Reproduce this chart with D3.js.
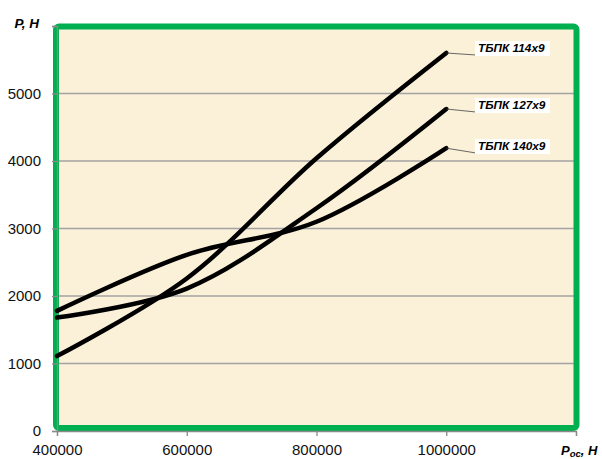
<!DOCTYPE html>
<html>
<head>
<meta charset="utf-8">
<script src="https://d3js.org/d3.v7.min.js"></script>
<style>
body { margin: 0; background: #fff; }
.lbl { font-family: 'Liberation Sans', Arial, sans-serif; font-weight: bold; font-style: italic; }
</style>
</head>
<body>
<svg id="svgMain" width="602" height="459"></svg>
<script>
// axial load P_oc (N) and resulting force P (N)
var loads = [400000, 600000, 800000, 1000000];
var tbpk114 = [1110, 2260, 4040, 5600];
var tbpk127 = [1680, 2110, 3300, 4770];
var tbpk140 = [1780, 2610, 3100, 4190];
var seriesNames = ['ТБПК 114x9', 'ТБПК 127x9', 'ТБПК 140x9'];
var xTicks = [400000, 600000, 800000, 1000000, 1200000];
var yTicks = [0, 1000, 2000, 3000, 4000, 5000, 6000];

var series = [tbpk114, tbpk127, tbpk140];

var svg = d3.select('svg');
var xs = d3.scaleLinear().domain([400000, 1200000]).range([57, 576]);
var ys = d3.scaleLinear().domain([0, 6000]).range([431, 26]);

// plot area
svg.append('rect')
  .attr('x', xs(400000)).attr('y', ys(6000))
  .attr('width', xs(1200000) - xs(400000))
  .attr('height', ys(0) - ys(6000))
  .attr('fill', '#fbf0d8');

// gridlines
svg.append('g').selectAll('line')
  .data(yTicks.filter(d => d > 0 && d < 6000))
  .enter().append('line')
    .attr('x1', xs(400000)).attr('x2', xs(1200000))
    .attr('y1', d => ys(d)).attr('y2', d => ys(d))
    .style('stroke', '#a3a3a3').style('stroke-width', 1.3);

// green frame
svg.append('rect')
  .attr('x', 56).attr('y', 26.5)
  .attr('width', 520.5).attr('height', 401.5)
  .attr('rx', 3)
  .attr('fill', 'none')
  .style('stroke', '#00b050').style('stroke-width', 6);

// axes
var yAxis = svg.append('g')
  .attr('transform', 'translate(' + xs(400000) + ',0)')
  .call(d3.axisLeft(ys).tickValues(yTicks).tickSize(5).tickPadding(11)
    .tickFormat(d => d == 6000 ? '' : d));
var xAxis = svg.append('g')
  .attr('transform', 'translate(0,' + ys(0) + ')')
  .call(d3.axisBottom(xs).tickValues(xTicks).tickSize(5).tickPadding(8)
    .tickFormat(d => d == 1200000 ? '' : d));
[yAxis, xAxis].forEach(function(a) {
  a.select('.domain').style('stroke', '#8a8a8a').style('stroke-width', 1.3);
  a.selectAll('.tick line').style('stroke', '#8a8a8a').style('stroke-width', 1.3);
  a.selectAll('.tick text')
    .attr('font-family', "'Liberation Sans', Arial, sans-serif")
    .attr('font-size', 15)
    .attr('fill', '#111');
});

// curves
var line = d3.line()
  .x((d, i) => xs(loads[i]))
  .y(d => ys(d))
  .curve(d3.curveCatmullRom.alpha(0.5));

svg.append('g').selectAll('path')
  .data(series)
  .enter().append('path')
    .attr('d', line)
    .attr('fill', 'none')
    .style('stroke', '#000')
    .style('stroke-width', 4.5)
    .style('stroke-linecap', 'round');

// series labels with leader lines
var labelY = [52, 109, 150];
series.forEach(function(s, i) {
  var last = s.length - 1;
  svg.append('line')
    .attr('x1', xs(loads[last])).attr('y1', ys(s[last]))
    .attr('x2', 476).attr('y2', labelY[i] + 3)
    .style('stroke', '#444').style('stroke-width', 0.8);
  svg.append('rect')
    .attr('x', 475).attr('y', labelY[i] - 11)
    .attr('width', 75).attr('height', 15)
    .attr('fill', '#fff');
  svg.append('text')
    .attr('class', 'lbl')
    .attr('x', 478).attr('y', labelY[i])
    .attr('font-size', 11.8)
    .text(seriesNames[i]);
});

// axis titles
svg.append('text')
  .attr('class', 'lbl')
  .attr('x', 39).attr('y', 28)
  .attr('text-anchor', 'end')
  .attr('font-size', 13.5)
  .text('P, Н');

var xt = svg.append('text')
  .attr('class', 'lbl')
  .attr('x', 561).attr('y', 455)
  .attr('font-size', 13);
xt.append('tspan').text('P');
xt.append('tspan').attr('font-size', 9.5).attr('dy', 2).text('ос');
xt.append('tspan').attr('dy', -2).text(', Н');
</script>
</body>
</html>
